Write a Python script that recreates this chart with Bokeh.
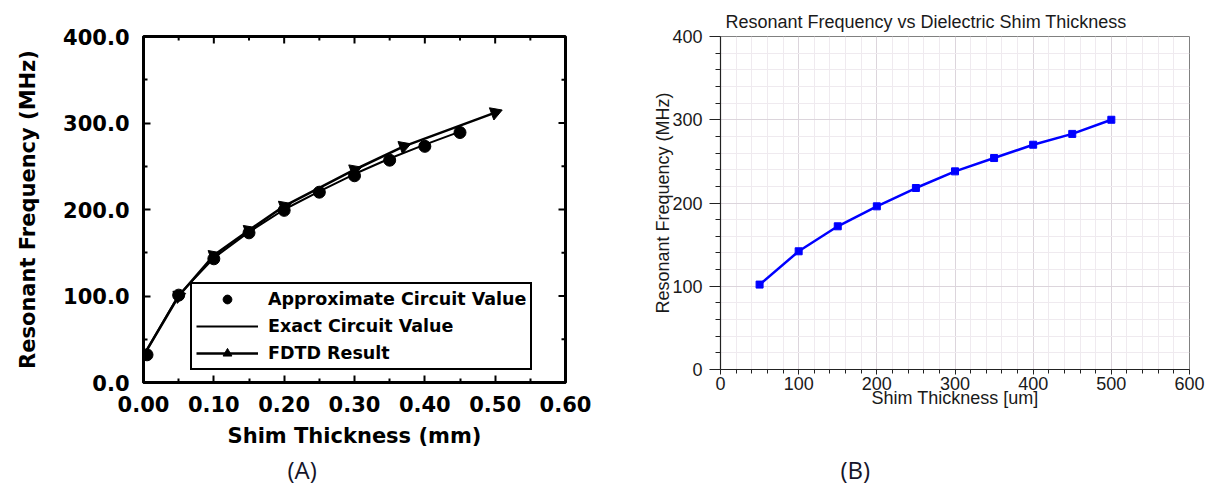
import math
from bokeh.plotting import figure
from bokeh.layouts import row
from bokeh.models import (FixedTicker, NumeralTickFormatter, Legend,
                          LegendItem, Title, Range1d)
from bokeh.embed import file_html
from bokeh.resources import INLINE

# ---------------- Panel A data (scanned published chart) ----------------
a_approx_x = [0.005, 0.05, 0.10, 0.15, 0.20, 0.25, 0.30, 0.35, 0.40, 0.45]
a_approx_y = [32, 101, 143, 173, 199, 220, 239, 257, 273, 289]
a_exact_x = [0.0, 0.05, 0.10, 0.15, 0.20, 0.25, 0.30, 0.35, 0.40, 0.45]
a_exact_y = [31, 101, 144, 174, 200, 221, 241, 259, 275, 290]
a_fdtd_x = [0.0, 0.05, 0.10, 0.15, 0.20, 0.30, 0.37, 0.50]
a_fdtd_y = [31, 100, 147, 176, 204, 246, 273, 312]
a_xticks = [0.0, 0.1, 0.2, 0.3, 0.4, 0.5, 0.6]
a_yticks = [0, 100, 200, 300, 400]
a_labels = ["Approximate Circuit Value", "Exact Circuit Value", "FDTD Result"]

# ---------------- Panel B data (simulation) ----------------
b_x = [50, 100, 150, 200, 250, 300, 350, 400, 450, 500]
b_y = [102, 142, 172, 196, 218, 238, 254, 270, 283, 300]
b_xticks = [0, 100, 200, 300, 400, 500, 600]
b_yticks = [0, 100, 200, 300, 400]

FA = "DejaVu Sans"
FB = "Liberation Sans"

# ======================= Panel A =======================
pa = figure(width=628, height=485,
            x_range=Range1d(a_xticks[0], a_xticks[-1]),
            y_range=Range1d(a_yticks[0], a_yticks[-1]),
            output_backend="svg", toolbar_location=None,
            min_border_left=143, min_border_right=63, min_border_top=36,
            min_border_bottom=103)
pa.frame_align = False
pa.outline_line_color = "black"
pa.outline_line_width = 3
pa.xgrid.visible = False
pa.ygrid.visible = False

a_xminor = [t + 0.05 for t in a_xticks[:-1]]
a_yminor = [t + 50 for t in a_yticks[:-1]]
pa.xaxis.ticker = FixedTicker(ticks=a_xticks, minor_ticks=a_xminor)
pa.yaxis.ticker = FixedTicker(ticks=a_yticks, minor_ticks=a_yminor)
pa.xaxis.formatter = NumeralTickFormatter(format="0.00")
pa.yaxis.formatter = NumeralTickFormatter(format="0.0")
for ax in pa.axis:
    ax.axis_line_width = 3
    ax.axis_line_color = "black"
    ax.major_tick_in = 7
    ax.major_tick_out = 0
    ax.minor_tick_in = 4
    ax.minor_tick_out = 0
    ax.major_tick_line_width = 2
    ax.minor_tick_line_width = 2
    ax.major_label_text_font = FA
    ax.major_label_text_font_style = "bold"
    ax.major_label_text_font_size = "21px"
    ax.major_label_text_color = "black"
    ax.axis_label_text_font = FA
    ax.axis_label_text_font_style = "bold"
    ax.axis_label_text_font_size = "21px"
    ax.axis_label_text_color = "black"
pa.xaxis.axis_label = "Shim Thickness (mm)"
pa.yaxis.axis_label = "Resonant Frequency (MHz)"
pa.xaxis.major_label_standoff = 13
pa.xaxis.axis_label_standoff = 9
pa.yaxis.major_label_standoff = 14
pa.yaxis.axis_label_standoff = 20

# inward ticks on the top and right edges (clipped to the frame)
pa.scatter(a_xticks, [a_yticks[-1]] * len(a_xticks), marker="dash", angle=math.pi / 2,
           size=14, line_color="black", line_width=2)
pa.scatter(a_xminor, [a_yticks[-1]] * len(a_xminor), marker="dash", angle=math.pi / 2,
           size=8, line_color="black", line_width=2)
pa.scatter([a_xticks[-1]] * len(a_yticks), a_yticks, marker="dash",
           size=14, line_color="black", line_width=2)
pa.scatter([a_xticks[-1]] * len(a_yminor), a_yminor, marker="dash",
           size=8, line_color="black", line_width=2)

r_exact = pa.line(a_exact_x, a_exact_y, line_color="black", line_width=2)
r_fdtd_l = pa.line(a_fdtd_x, a_fdtd_y, line_color="black", line_width=2.6)
r_approx = pa.scatter(a_approx_x, a_approx_y, marker="circle", size=12,
                      fill_color="black", line_color="black")
r_fdtd_m = pa.scatter(a_fdtd_x[1:], a_fdtd_y[1:], marker="triangle", size=13,
                      angle=-math.pi / 2 + 0.35, fill_color="black", line_color="black")

leg = Legend(items=[LegendItem(label=a_labels[0], renderers=[r_approx]),
                    LegendItem(label=a_labels[1], renderers=[r_exact]),
                    LegendItem(label=a_labels[2], renderers=[r_fdtd_l, r_fdtd_m])],
             location=(47, 12))
leg.label_text_font = FA
leg.label_text_font_style = "bold"
leg.label_text_font_size = "17.5px"
leg.label_text_color = "black"
leg.glyph_width = 62
leg.glyph_height = 22
leg.label_height = 22
leg.spacing = 5
leg.padding = 4
leg.margin = 0
leg.label_standoff = 10
leg.border_line_color = "black"
leg.border_line_alpha = 1
leg.border_line_width = 2.5
leg.background_fill_alpha = 1
pa.add_layout(leg, "center")

pa.add_layout(Title(text="(A)", align="left", offset=144, text_font="Open Sans",
                    text_font_size="24px", text_font_style="normal",
                    text_color="#15152a", standoff=0), "below")

# ======================= Panel B =======================
pb = figure(width=578, height=485,
            x_range=Range1d(b_xticks[0], b_xticks[-1]),
            y_range=Range1d(b_yticks[0], b_yticks[-1]),
            output_backend="svg", toolbar_location=None,
            min_border_left=92, min_border_right=17, min_border_top=36,
            min_border_bottom=112,
            title="Resonant Frequency vs Dielectric Shim Thickness")
pb.frame_align = False
pb.title.align = "left"
pb.title.offset = 5
pb.title.text_font = FB
pb.title.text_font_size = "18px"
pb.title.text_font_style = "normal"
pb.title.text_color = "#1a1a1a"
pb.title.standoff = 9
pb.outline_line_color = "#808080"
pb.outline_line_width = 1

b_xminor = [t + d for t in b_xticks[:-1] for d in (20, 40, 60, 80)]
b_yminor = [t + d for t in b_yticks[:-1] for d in (20, 40, 60, 80)]
pb.xaxis.ticker = FixedTicker(ticks=b_xticks, minor_ticks=b_xminor)
pb.yaxis.ticker = FixedTicker(ticks=b_yticks, minor_ticks=b_yminor)
for g in (pb.xgrid, pb.ygrid):
    g.grid_line_color = "#dcd5dc"
    g.grid_line_width = 1
    g.minor_grid_line_color = "#efeaef"
    g.minor_grid_line_width = 1
for ax in pb.axis:
    ax.axis_line_color = "#222222"
    ax.axis_line_width = 1.2
    ax.major_tick_line_color = "#222222"
    ax.minor_tick_line_color = "#222222"
    ax.major_tick_in = 0
    ax.minor_tick_in = 0
    ax.major_label_text_font = FB
    ax.major_label_text_font_size = "18px"
    ax.major_label_text_color = "#1a1a1a"
    ax.axis_label_text_font = FB
    ax.axis_label_text_font_size = "18px"
    ax.axis_label_text_font_style = "normal"
    ax.axis_label_text_color = "#1a1a1a"
pb.yaxis.major_tick_out = 11
pb.yaxis.minor_tick_out = 5
pb.xaxis.major_tick_out = 5
pb.xaxis.minor_tick_out = 4
pb.yaxis.major_label_standoff = 7
pb.xaxis.major_label_standoff = 2
pb.xaxis.axis_label = "Shim Thickness [um]"
pb.yaxis.axis_label = "Resonant Frequency (MHz)"
pb.xaxis.axis_label_standoff = -5
pb.yaxis.axis_label_standoff = -4

pb.line(b_x, b_y, line_color="#0000ff", line_width=2.5)
pb.scatter(b_x, b_y, marker="square", size=7, fill_color="#0000ff", line_color="#0000ff")

# blank spacer panel so that the "(B)" caption sits lower, as in the reference
pb.add_layout(Title(text=" ", align="left", offset=120, text_font="Open Sans",
                    text_font_size="24px", standoff=5), "below")
pb.add_layout(Title(text="(B)", align="left", offset=120, text_font="Open Sans",
                    text_font_size="24px", text_font_style="normal",
                    text_color="#15152a", standoff=0), "below")

layout = row(pa, pb)
open("out.html", "w").write(file_html(layout, INLINE))
